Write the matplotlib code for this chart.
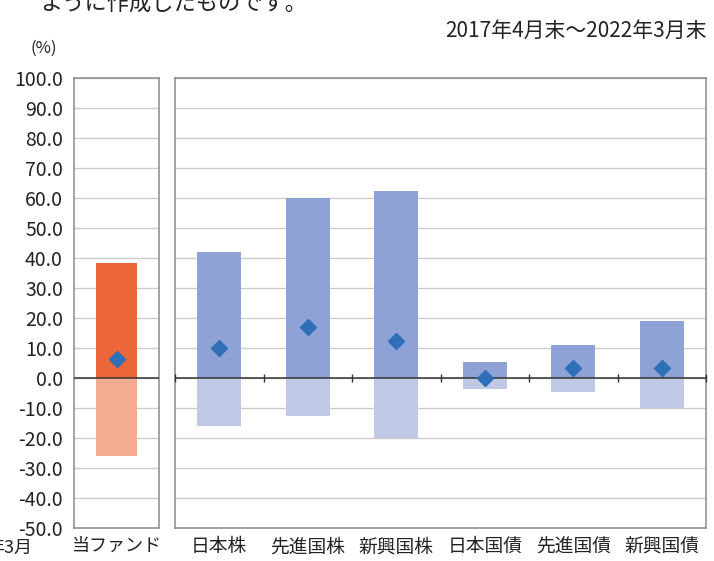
import matplotlib.pyplot as plt
import numpy as np

plt.rcParams['font.family'] = ['Noto Sans CJK JP', 'DejaVu Sans']

fund_label = ['当ファンド']
fund_max = [38.5]
fund_min = [-26.0]
fund_avg = [6.5]

assets = ['日本株', '先進国株', '新興国株', '日本国債', '先進国債', '新興国債']
asset_max = [42.0, 60.0, 62.5, 5.5, 11.0, 19.0]
asset_min = [-16.0, -12.5, -20.0, -3.5, -4.5, -10.0]
asset_avg = [10.0, 17.0, 12.5, 0.0, 3.5, 3.5]

yticks = np.arange(-50, 101, 10)

fig = plt.figure(figsize=(7.14, 5.61), dpi=100)
ax1 = fig.add_axes([74 / 714, 1 - 528 / 561, 85 / 714, 450 / 561])
ax2 = fig.add_axes([175 / 714, 1 - 528 / 561, 531 / 714, 450 / 561])

def style(ax, n):
    ax.set_ylim(-50, 100)
    ax.set_xlim(-0.5, n - 0.5)
    ax.set_yticks(yticks)
    ax.grid(axis='y', color='#cccccc', linewidth=1.0)
    ax.set_axisbelow(True)
    for s in ax.spines.values():
        s.set_color('#8a8a8a')
        s.set_linewidth(1.1)
    ax.tick_params(axis='both', length=0)
    ax.set_xticks(range(n))
    ax.axhline(0, color='#333333', linewidth=1.1, zorder=3)

style(ax1, 1)
style(ax2, len(assets))

x1 = np.arange(len(fund_label))
ax1.bar(x1, fund_max, width=0.48, color='#ec673a', zorder=2)
ax1.bar(x1, fund_min, width=0.48, color='#f3ad8e', zorder=2)
ax1.plot(x1, fund_avg, 'D', color='#2e6fb7', markersize=8, zorder=4)
ax1.set_yticklabels(['%.1f' % v for v in yticks], fontsize=14, color='#222222')
ax1.tick_params(axis='y', pad=8)
ax1.set_xticklabels(fund_label, fontsize=13, color='#222222')
ax1.tick_params(axis='x', pad=6)

x2 = np.arange(len(assets))
ax2.bar(x2, asset_max, width=0.5, color='#8ea2d5', zorder=2)
ax2.bar(x2, asset_min, width=0.5, color='#c0cae6', zorder=2)
ax2.plot(x2, asset_avg, 'D', color='#2e6fb7', markersize=8, zorder=4)
ax2.set_yticklabels([])
ax2.set_xticklabels(assets, fontsize=13.5, color='#222222')
ax2.tick_params(axis='x', pad=6)
# small separator ticks on the zero line
sep = np.arange(len(assets) + 1) - 0.5
ax2.plot(sep, np.zeros(len(sep)), '|', color='#333333', markersize=6, zorder=3, clip_on=False)

fig.text(30 / 714, 1 - 48 / 561, '(%)', fontsize=12, ha='left', va='center', color='#222222')
fig.text(707 / 714, 1 - 31 / 561, '2017年4月末～2022年3月末', fontsize=15,
         ha='right', va='center', color='#222222')
fig.text(40 / 714, 1 - 4 / 561, 'ように作成したものです。', fontsize=16,
         ha='left', va='center', color='#222222')
fig.text(-14 / 714, 1 - 548 / 561, '年3月', fontsize=13, ha='left', va='center', color='#222222')

fig.savefig('out.png', dpi=100)
